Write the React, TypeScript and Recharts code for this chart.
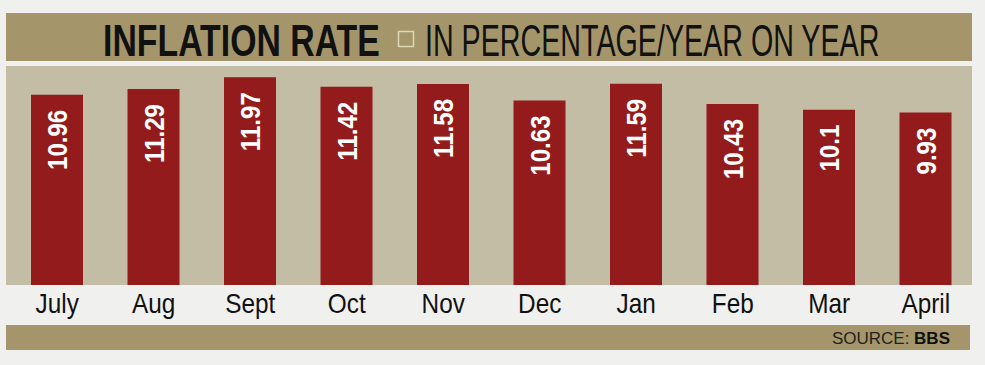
import { BarChart, Bar, XAxis, YAxis, LabelList } from 'recharts';

const months = ['July', 'Aug', 'Sept', 'Oct', 'Nov', 'Dec', 'Jan', 'Feb', 'Mar', 'April'];
const rates = [10.96, 11.29, 11.97, 11.42, 11.58, 10.63, 11.59, 10.43, 10.1, 9.93];
const rateLabels = ['10.96', '11.29', '11.97', '11.42', '11.58', '10.63', '11.59', '10.43', '10.1', '9.93'];

const data = months.map((month, i) => ({ month, rate: rates[i], label: rateLabels[i] }));

// no narrow font installed, so Liberation Sans gets squeezed with a scale
const FONT = "'Liberation Sans', Arial, sans-serif";
const OLIVE = '#a4966a';
const PANEL = '#c4bda6';
const BAR = '#931b1b';

const renderValue = (props: any) => {
  const { x, y, width, index } = props;
  const cx = x + width / 2;
  const ty = y + 15;
  return (
    <text
      x={0}
      y={0}
      transform={`translate(${cx} ${ty}) rotate(-90) scale(0.86 1)`}
      textAnchor="end"
      dy="0.36em"
      fill="#fff"
      fontFamily={FONT}
      fontWeight="bold"
      fontSize={28}
    >
      {data[index].label}
    </text>
  );
};

const renderTick = (props: any) => {
  const { x, y, payload } = props;
  return (
    <text
      x={0}
      y={0}
      transform={`translate(${x} ${y + 20}) scale(0.87 1)`}
      textAnchor="middle"
      fill="#111"
      fontFamily={FONT}
      fontSize={28}
    >
      {payload.value}
    </text>
  );
};

const App = () => {
  return (
    <div
      style={{
        position: 'absolute',
        left: 0,
        top: 0,
        width: 985,
        height: 365,
        background: '#f0f0ee',
        overflow: 'hidden',
      }}
    >
      <div style={{ position: 'absolute', left: 6, top: 13, width: 966, height: 48, background: OLIVE }} />
      <div style={{ position: 'absolute', left: 6, top: 66, width: 966, height: 219, background: PANEL }} />
      <div style={{ position: 'absolute', left: 6, top: 325, width: 964, height: 25, background: OLIVE }} />
      <svg width={985} height={365} style={{ position: 'absolute', left: 0, top: 0 }}>
        <text
          x={0}
          y={0}
          transform="translate(103 56) scale(0.752 1)"
          fontFamily={FONT}
          fontWeight="bold"
          fontSize={45}
          fill="#111"
        >
          INFLATION RATE
        </text>
        <rect x={398.5} y={31.5} width={15} height={15} fill="none" stroke="#ddd8b8" strokeWidth={1.5} />
        <text
          x={0}
          y={0}
          transform="translate(425 56) scale(0.637 1)"
          fontFamily={FONT}
          fontSize={45}
          fill="#111"
        >
          IN PERCENTAGE/YEAR ON YEAR
        </text>
        <text x={950} y={344} textAnchor="end" fontFamily={FONT} fontSize={17} fill="#222">
          SOURCE: <tspan fontWeight="bold" fill="#111">BBS</tspan>
        </text>
      </svg>
      <div style={{ position: 'absolute', left: 0, top: 0 }}>
        <BarChart width={985} height={365} data={data} margin={{ top: 68, right: 11, bottom: 50, left: 9 }}>
          <XAxis dataKey="month" height={30} axisLine={false} tickLine={false} tick={renderTick} interval={0} />
          <YAxis hide width={0} domain={[0, 12.5]} />
          <Bar dataKey="rate" fill={BAR} barSize={52} isAnimationActive={false}>
            <LabelList dataKey="rate" content={renderValue} />
          </Bar>
        </BarChart>
      </div>
    </div>
  );
};

export default App;
